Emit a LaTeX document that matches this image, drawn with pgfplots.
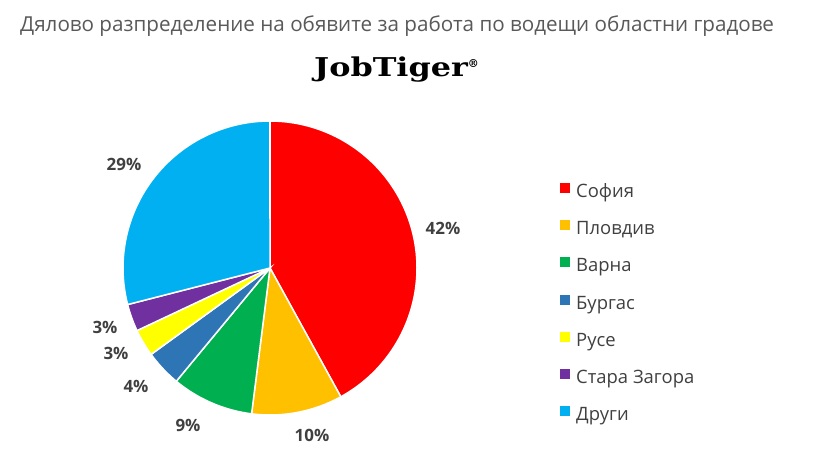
\documentclass[border=0pt]{standalone}
\usepackage{pgfplots}
\pgfplotsset{compat=1.18}
\usepackage{fontspec}
\setmainfont{Open Sans}
\newfontfamily\logofont{DejaVu Serif}
\definecolor{cSof}{HTML}{FF0000}
\definecolor{cPlo}{HTML}{FFC000}
\definecolor{cVar}{HTML}{00B050}
\definecolor{cBur}{HTML}{2E75B6}
\definecolor{cRus}{HTML}{FFFF00}
\definecolor{cSta}{HTML}{7030A0}
\definecolor{cDru}{HTML}{00B0F0}
\definecolor{titlegray}{HTML}{595959}
\definecolor{txt}{HTML}{404040}
\begin{document}
\begin{tikzpicture}
\begin{axis}[
  scale only axis, width=813bp, height=457bp,
  xmin=0, xmax=813, ymin=0, ymax=457, y dir=reverse,
  hide axis, clip=false,
  every axis plot/.append style={draw=white, line width=1.5bp},
  legend cell align=left,
  legend style={draw=none, fill=none, inner sep=0pt,
    at={(0.6888,0.5995)}, anchor=north west,
    font=\fontsize{18.5}{20}\selectfont, text=txt, row sep=17.6bp,
    nodes={text height=14bp, text depth=5bp, inner sep=0pt},
    /tikz/every odd column/.append style={column sep=6bp}},
  legend image code/.code={\fill[#1, draw=none] (0bp,0bp) rectangle (10bp,10bp);},
]
% pie slices: start and end in percent of the circle (0 = top, clockwise)
% София 42, Пловдив 10, Варна 9, Бургас 4, Русе 3, Стара Загора 3, Други 29
\addplot[fill=cSof, domain=0:151.2, samples=80, variable=\t]
  ({270+147*sin(\t)},{268-147*cos(\t)}) -- (axis cs:270,268) -- cycle;
\addlegendentry{София}
\addplot[fill=cPlo, domain=151.2:187.2, samples=30, variable=\t]
  ({270+147*sin(\t)},{268-147*cos(\t)}) -- (axis cs:270,268) -- cycle;
\addlegendentry{Пловдив}
\addplot[fill=cVar, domain=187.2:219.6, samples=30, variable=\t]
  ({270+147*sin(\t)},{268-147*cos(\t)}) -- (axis cs:270,268) -- cycle;
\addlegendentry{Варна}
\addplot[fill=cBur, domain=219.6:234, samples=20, variable=\t]
  ({270+147*sin(\t)},{268-147*cos(\t)}) -- (axis cs:270,268) -- cycle;
\addlegendentry{Бургас}
\addplot[fill=cRus, domain=234:244.8, samples=20, variable=\t]
  ({270+147*sin(\t)},{268-147*cos(\t)}) -- (axis cs:270,268) -- cycle;
\addlegendentry{Русе}
\addplot[fill=cSta, domain=244.8:255.6, samples=20, variable=\t]
  ({270+147*sin(\t)},{268-147*cos(\t)}) -- (axis cs:270,268) -- cycle;
\addlegendentry{Стара Загора}
\addplot[fill=cDru, domain=255.6:360, samples=60, variable=\t]
  ({270+147*sin(\t)},{268-147*cos(\t)}) -- (axis cs:270,268) -- cycle;
\addlegendentry{Други}

\path (rel axis cs:0,0) rectangle (rel axis cs:1,1);
\node[anchor=base west, text=titlegray, font=\fontsize{20.7}{24}\selectfont, inner sep=0pt]
  at (axis cs:20,32) {Дялово разпределение на обявите за работа по водещи областни градове};
\node[anchor=base west, text=black, inner sep=0pt]
  at (axis cs:314,77) {\scalebox{1.23}[1]{\logofont\bfseries\fontsize{26}{30}\selectfont JobTiger}\raisebox{9bp}{\logofont\bfseries\fontsize{11}{12}\selectfont ®}};
\begin{scope}[every node/.style={text=txt, font=\bfseries\fontsize{17}{20}\selectfont, inner sep=0pt}]
\node at (axis cs:443,228) {42\%};
\node at (axis cs:312,435) {10\%};
\node at (axis cs:188,425) {9\%};
\node at (axis cs:136,386) {4\%};
\node at (axis cs:116,353) {3\%};
\node at (axis cs:105,327) {3\%};
\node at (axis cs:124,164) {29\%};
\end{scope}
\end{axis}
\end{tikzpicture}
\end{document}
